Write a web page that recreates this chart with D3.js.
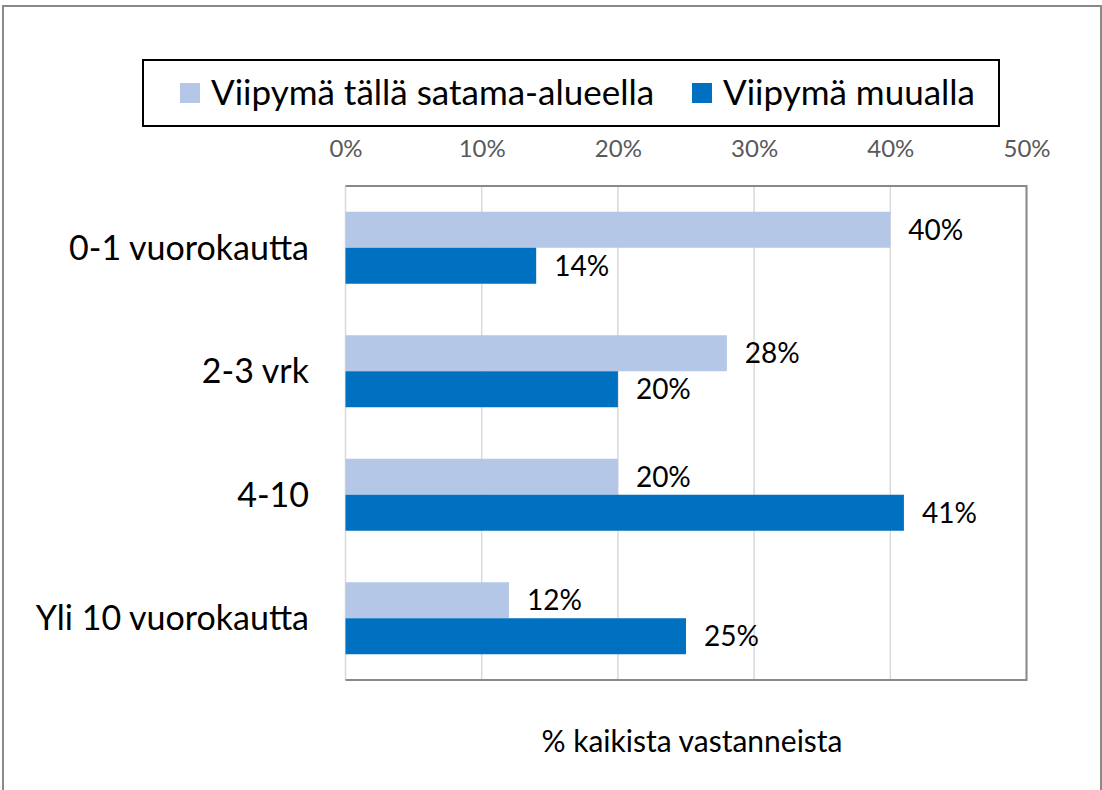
<!DOCTYPE html>
<html>
<head>
<meta charset="utf-8">
<script src="https://cdn.jsdelivr.net/npm/d3@7.9.0/dist/d3.min.js"></script>
<style>
  body { margin: 0; background: #fff; }
  svg { display: block; font-family: Lato, "Open Sans", sans-serif; }
</style>
</head>
<body>
<svg id="chart" width="1102" height="790"></svg>
<script>
const categories = ['0-1 vuorokautta', '2-3 vrk', '4-10', 'Yli 10 vuorokautta'];
const seriesNames = ['Viipymä tällä satama-alueella', 'Viipymä muualla'];
const localStay = [40, 28, 20, 12];
const elsewhere = [14, 20, 41, 25];
const xTicks = [0, 10, 20, 30, 40, 50];
const axisTitle = '% kaikista vastanneista';
const colors = ['#b4c7e7', '#0070c0'];

const rows = categories.map((c, i) => ({ cat: c, values: [localStay[i], elsewhere[i]] }));

const svg = d3.select('#chart');
const plot = { left: 345.5, right: 1026.5, top: 186, bottom: 680 };

// outer chart frame
svg.append('rect')
  .attr('x', 3).attr('y', 6)
  .attr('width', 1098).attr('height', 800)
  .attr('fill', 'none')
  .attr('stroke', '#898989')
  .attr('stroke-width', 2);

const x = d3.scaleLinear().domain([0, 50]).range([plot.left, plot.right]);
const y = d3.scaleBand()
  .domain(categories)
  .range([plot.top, plot.bottom])
  .paddingInner(0.417)
  .paddingOuter(0.2085);
const ySub = d3.scaleBand().domain([0, 1]).range([0, y.bandwidth()]);

// gridlines
svg.append('g')
  .selectAll('line')
  .data(xTicks)
  .join('line')
  .attr('x1', d => x(d)).attr('x2', d => x(d))
  .attr('y1', plot.top).attr('y2', plot.bottom)
  .attr('stroke', '#d9d9d9')
  .attr('stroke-width', 1.5);

// bars
const groups = svg.append('g')
  .selectAll('g')
  .data(rows)
  .join('g')
  .attr('transform', d => `translate(0,${y(d.cat)})`);

groups.selectAll('rect')
  .data(d => d.values)
  .join('rect')
  .attr('x', x(0))
  .attr('y', (d, i) => ySub(i))
  .attr('width', d => x(d) - x(0))
  .attr('height', ySub.bandwidth())
  .attr('fill', (d, i) => colors[i]);

const labelSize = 28;
groups.selectAll('text')
  .data(d => d.values)
  .join('text')
  .attr('x', d => x(d) + 18)
  .attr('y', (d, i) => ySub(i) + ySub.bandwidth() / 2 + labelSize * 0.36)
  .attr('font-size', labelSize)
  .attr('fill', '#000')
  .text(d => d + '%');

// plot border (top, right, bottom)
svg.append('path')
  .attr('d', `M${plot.left},${plot.top}H${plot.right}V${plot.bottom}H${plot.left}`)
  .attr('fill', 'none')
  .attr('stroke', '#898989')
  .attr('stroke-width', 2);

// top axis
const xAxis = svg.append('g')
  .attr('transform', `translate(0,${plot.top})`)
  .call(d3.axisTop(x).tickValues(xTicks).tickFormat(d => d + '%').tickSize(0).tickPadding(29));
xAxis.select('.domain').remove();
xAxis.selectAll('text')
  .attr('font-family', 'Lato, "Open Sans", sans-serif')
  .attr('font-size', 24)
  .attr('fill', '#595959');

// category labels
const catSize = 34;
svg.append('g')
  .selectAll('text')
  .data(categories)
  .join('text')
  .attr('x', 309)
  .attr('y', d => y(d) + y.bandwidth() / 2 + catSize * 0.36)
  .attr('text-anchor', 'end')
  .attr('font-size', catSize)
  .attr('fill', '#000')
  .text(d => d);

// axis title
svg.append('text')
  .attr('x', (plot.left + plot.right) / 2 + 6)
  .attr('y', 752)
  .attr('text-anchor', 'middle')
  .attr('font-size', 30)
  .attr('fill', '#000')
  .text(axisTitle);

// legend
svg.append('rect')
  .attr('x', 143).attr('y', 60)
  .attr('width', 856).attr('height', 66)
  .attr('fill', '#fff')
  .attr('stroke', '#000')
  .attr('stroke-width', 2);

const legendX = [180, 692];
const legend = svg.append('g')
  .selectAll('g')
  .data(seriesNames)
  .join('g')
  .attr('transform', (d, i) => `translate(${legendX[i]},83)`);
legend.append('rect')
  .attr('width', 20).attr('height', 20)
  .attr('fill', (d, i) => colors[i]);
legend.append('text')
  .attr('x', 31)
  .attr('y', 22)
  .attr('font-size', 35)
  .attr('fill', '#000')
  .text(d => d);
</script>
</body>
</html>
